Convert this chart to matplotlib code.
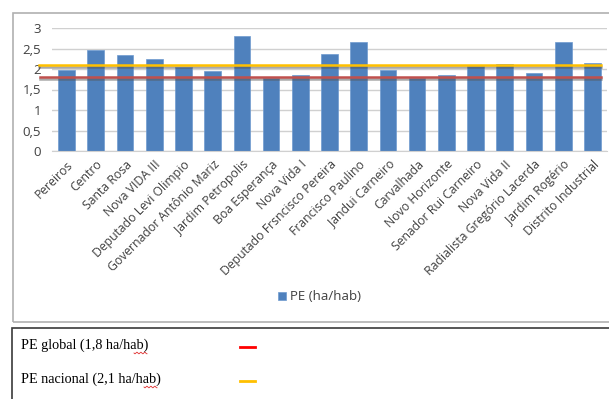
import numpy as np
import matplotlib.pyplot as plt
from matplotlib.patches import Rectangle
from matplotlib.lines import Line2D
import matplotlib.patheffects as pe

# bairros e pegada ecologica (ha/hab)
bairros = ['Pereiros', 'Centro', 'Santa Rosa', 'Nova VIDA III', 'Deputado Levi Olimpio',
           'Governador Antônio Mariz', 'Jardim Petropolis', 'Boa Esperança', 'Nova Vida I',
           'Deputado Frsncisco Pereira', 'Francisco Paulino', 'Jandui Carneiro', 'Carvalhada',
           'Novo Horizonte', 'Senador Rui Carneiro', 'Nova Vida II', 'Radialista Gregório Lacerda',
           'Jardim Rogério', 'Distrito Industrial']
pe_bairro = [1.98, 2.46, 2.33, 2.24, 2.05, 1.96, 2.81, 1.79, 1.85,
             2.36, 2.66, 1.98, 1.79, 1.85, 2.07, 2.13, 1.90, 2.66, 2.15]
pe_global = 1.8
pe_nacional = 2.1

W, H = 609, 399
fig = plt.figure(figsize=(W / 100, H / 100), dpi=100)

# moldura do grafico e da tabela
fig.patches.append(Rectangle((13 / W, 1 - 322 / H), 700 / W, 309 / H, transform=fig.transFigure,
                             fill=False, edgecolor='#b0b0b0', linewidth=1.2))
fig.patches.append(Rectangle((12 / W, -0.05), 700 / W, 1 - 328 / H + 0.05, transform=fig.transFigure,
                             fill=False, edgecolor='#3a3a3a', linewidth=1.2))

ax = fig.add_axes([52 / W, 1 - 151 / H, 555 / W, 123 / H])
x = np.arange(len(bairros))
bars = ax.bar(x, pe_bairro, width=0.57, color='#4f81bd', edgecolor='#6f9bd0', linewidth=0.5,
              zorder=2, label='PE (ha/hab)')

ax.set_xlim(-0.5, len(bairros) - 0.5)
ax.set_ylim(0, 3)
yt = np.arange(0, 3.01, 0.5)
ax.set_yticks(yt)
ax.set_yticklabels([('%g' % v).replace('.', ',') for v in yt], fontsize=9.5, color='#404040',
                   family='Open Sans')
ax.set_xticks(x)
ax.set_xticklabels(bairros, rotation=45, ha='right', rotation_mode='anchor', fontsize=8.8,
                   color='#404040', family='Open Sans')
ax.tick_params(axis='y', length=0, pad=8)
ax.tick_params(axis='x', length=0, pad=5)
ax.grid(axis='y', color='#d0d0d0', linewidth=1, zorder=0)
for s in ['top', 'right', 'left']:
    ax.spines[s].set_visible(False)
ax.spines['bottom'].set_color('#d0d0d0')

# linhas de referencia
shadow = [pe.SimpleLineShadow(offset=(0, -1.2), shadow_color='#555555', alpha=0.5), pe.Normal()]
ax.axhline(pe_nacional, xmin=-0.023, xmax=0.989, color='#ffc000', linewidth=1.8,
           clip_on=False, zorder=3, path_effects=shadow)
ax.axhline(pe_global, xmin=-0.021, xmax=0.989, color='#c0504d', linewidth=1.8,
           clip_on=False, zorder=3, path_effects=shadow)

fig.legend(handles=[bars], labels=['PE (ha/hab)'], loc='center left',
           bbox_to_anchor=(278 / W, 1 - 297 / H), frameon=False, handlelength=0.6,
           handleheight=0.6, handletextpad=0.3, borderpad=0, borderaxespad=0,
           prop={'family': 'Open Sans', 'size': 9.5}, labelcolor='#404040')

# tabela de referencia
fig.text(21 / W, 1 - 345 / H, 'PE global (1,8 ha/hab)', family='Liberation Serif', fontsize=10.2,
         va='center', ha='left')
fig.text(21 / W, 1 - 379 / H, 'PE nacional (2,1 ha/hab)', family='Liberation Serif', fontsize=10.2,
         va='center', ha='left')
fig.lines.append(Line2D([240 / W, 255 / W], [1 - 347 / H] * 2, transform=fig.transFigure,
                        color='#ff0000', linewidth=2))
fig.lines.append(Line2D([240 / W, 255 / W], [1 - 381 / H] * 2, transform=fig.transFigure,
                        color='#ffc000', linewidth=2))

# sublinhado ondulado do corretor
for x0, y0 in [(134, 353), (144, 387)]:
    t = np.linspace(0, 13, 27)
    fig.lines.append(Line2D((x0 + t) / W, 1 - (y0 + 0.8 * np.sin(t * 1.6)) / H,
                            transform=fig.transFigure, color='#e03030', linewidth=0.6))

fig.savefig('out.png', dpi=100)
